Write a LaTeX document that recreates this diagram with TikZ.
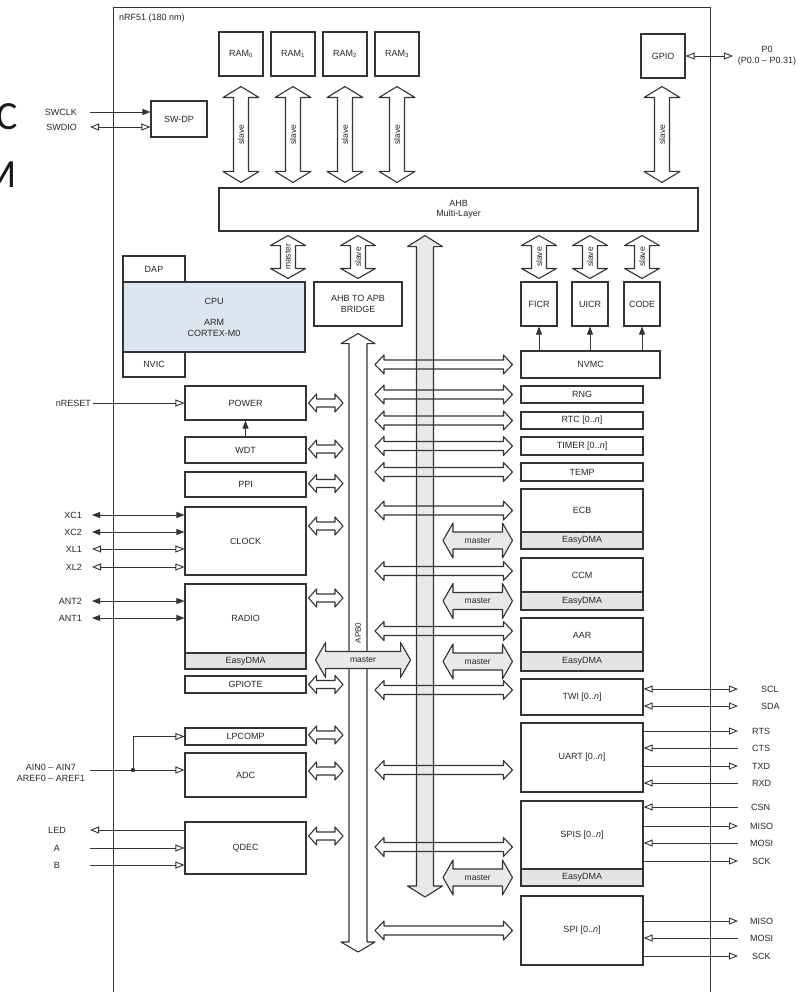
\documentclass[tikz,border=0pt]{standalone}
\usepackage{fontspec}
\setmainfont{Liberation Sans}
\newfontfamily\slidefont{Carlito}
\usetikzlibrary{arrows.meta,calc}
\definecolor{linec}{HTML}{333333}
\definecolor{textc}{HTML}{262626}
\definecolor{cpufill}{HTML}{DCE6F0}
\definecolor{dmafill}{HTML}{E4E4E4}
\definecolor{busfill}{HTML}{E9E9E9}
\newcommand\lblfont{\fontsize{9}{10.5}\selectfont}
\newcommand\arrfont{\fontsize{8.5}{9}\selectfont}
\tikzset{
 blk/.style={draw=linec, line width=1.1pt, inner sep=0pt, font=\lblfont, text=textc, align=center},
 dmablk/.style={blk, fill=dmafill},
 lbl/.style={inner sep=0pt, font=\lblfont, text=textc, align=center},
 sig/.style={draw=linec, line width=0.9pt},
 fatarrow/.style={draw=linec, line width=1.1pt, line join=round},
 arrowlbl/.style={inner sep=0pt, font=\arrfont, text=textc},
 oT/.tip={Triangle[open,length=9pt,width=7pt]},
 fT/.tip={Triangle[length=8pt,width=6pt]},
}
% vertical double fat arrow: top point, bottom point, half shaft, half head, head length, fill, label
\newcommand\fatV[7]{%
  \path[fatarrow,fill=#6] let \p1=#1, \p2=#2 in
    (\x1,\y1) -- ({\x1+#4pt},{\y1-#5pt}) -- ({\x1+#3pt},{\y1-#5pt})
    -- ({\x1+#3pt},{\y2+#5pt}) -- ({\x1+#4pt},{\y2+#5pt}) -- (\x1,\y2)
    -- ({\x1-#4pt},{\y2+#5pt}) -- ({\x1-#3pt},{\y2+#5pt})
    -- ({\x1-#3pt},{\y1-#5pt}) -- ({\x1-#4pt},{\y1-#5pt}) -- cycle
    ({\x1},{0.5*\y1+0.5*\y2}) node[arrowlbl,rotate=90] {#7};}
% horizontal double fat arrow: left point, right point, half shaft, half head, head length, fill, label
\newcommand\fatH[7]{%
  \path[fatarrow,fill=#6] let \p1=#1, \p2=#2 in
    (\x1,\y1) -- ({\x1+#5pt},{\y1+#4pt}) -- ({\x1+#5pt},{\y1+#3pt})
    -- ({\x2-#5pt},{\y1+#3pt}) -- ({\x2-#5pt},{\y1+#4pt}) -- (\x2,\y1)
    -- ({\x2-#5pt},{\y1-#4pt}) -- ({\x2-#5pt},{\y1-#3pt})
    -- ({\x1+#5pt},{\y1-#3pt}) -- ({\x1+#5pt},{\y1-#4pt}) -- cycle
    ({0.5*\x1+0.5*\x2},{\y1}) node[arrowlbl] {#7};}

\begin{document}
\begin{tikzpicture}[x=1pt,y=-1pt]
\useasboundingbox (0,0) rectangle (808,992);

% slide letters cut at the left edge
\node[font=\slidefont\fontsize{40}{40}\selectfont, text=black!90, anchor=base east, inner sep=0pt] (bigC) at (18,130) {C};
\node[font=\slidefont\fontsize{40}{40}\selectfont, text=black!90, anchor=base east, inner sep=0pt] (bigM) at (17,188) {M};

% chip frame
\node[draw=linec, line width=1.1pt, minimum width=597pt, minimum height=1010pt, anchor=north west, inner sep=0pt] (chip) at (113,7) {};
\node[lbl, anchor=west] (chiplbl) at (119,18) {nRF51 (180 nm)};

% top row
\node[blk, minimum width=44pt, minimum height=44pt] (ram0) at (241,54) {RAM\textsubscript{0}};
\node[blk, minimum width=44pt, minimum height=44pt] (ram1) at (293,54) {RAM\textsubscript{1}};
\node[blk, minimum width=44pt, minimum height=44pt] (ram2) at (345,54) {RAM\textsubscript{2}};
\node[blk, minimum width=44pt, minimum height=44pt] (ram3) at (397,54) {RAM\textsubscript{3}};
\node[blk, minimum width=44pt, minimum height=44pt] (gpio) at (663,56) {GPIO};
\node[blk, minimum width=56pt, minimum height=36pt] (swdp) at (179,119) {SW-DP};
\node[blk, minimum width=479pt, minimum height=43pt] (ahb) at (458.5,209.5) {AHB\\Multi-Layer};

% CPU
\node[blk, minimum width=62pt, minimum height=26pt] (dap) at (154,269) {DAP};
\node[blk, fill=cpufill, minimum width=182pt, minimum height=70pt, font=\fontsize{9}{10.5}\selectfont] (cpu) at (214,317) {CPU\\[11pt]ARM\\CORTEX-M0};
\node[blk, minimum width=62pt, minimum height=25pt] (nvic) at (154,364.5) {NVIC};
\node[blk, minimum width=88pt, minimum height=44pt] (bridge) at (358,304) {AHB TO APB\\BRIDGE};

% flash
\node[blk, minimum width=36pt, minimum height=44pt] (ficr) at (539,304) {FICR};
\node[blk, minimum width=36pt, minimum height=44pt] (uicr) at (590,304) {UICR};
\node[blk, minimum width=36pt, minimum height=44pt] (code) at (642,304) {CODE};
\node[blk, minimum width=139pt, minimum height=27pt] (nvmc) at (590.5,364.5) {NVMC};

% right peripherals
\node[blk, minimum width=122pt, minimum height=17pt] (rng) at (582,394.5) {RNG};
\node[blk, minimum width=122pt, minimum height=17pt] (rtc) at (582,420.5) {RTC [0..\textit{n}]};
\node[blk, minimum width=122pt, minimum height=18pt] (timer) at (582,446) {TIMER [0..\textit{n}]};
\node[blk, minimum width=122pt, minimum height=18pt] (temp) at (582,472) {TEMP};
\node[blk, minimum width=122pt, minimum height=43pt] (ecb) at (582,510.5) {ECB};
\node[dmablk, minimum width=122pt, minimum height=17pt] (ecbdma) at (582,540.5) {EasyDMA};
\node[blk, minimum width=122pt, minimum height=34pt] (ccm) at (582,575) {CCM};
\node[dmablk, minimum width=122pt, minimum height=18pt] (ccmdma) at (582,601) {EasyDMA};
\node[blk, minimum width=122pt, minimum height=34pt] (aar) at (582,635) {AAR};
\node[dmablk, minimum width=122pt, minimum height=19pt] (aardma) at (582,661.5) {EasyDMA};
\node[blk, minimum width=122pt, minimum height=36pt] (twi) at (582,697) {TWI [0..\textit{n}]};
\node[blk, minimum width=122pt, minimum height=69pt] (uart) at (582,757.5) {UART [0..\textit{n}]};
\node[blk, minimum width=122pt, minimum height=68pt] (spis) at (582,835) {SPIS [0..\textit{n}]};
\node[dmablk, minimum width=122pt, minimum height=17pt] (spisdma) at (582,877.5) {EasyDMA};
\node[blk, minimum width=122pt, minimum height=69pt] (spi) at (582,930.5) {SPI [0..\textit{n}]};

% left peripherals
\node[blk, minimum width=121pt, minimum height=34pt] (power) at (245.5,403) {POWER};
\node[blk, minimum width=121pt, minimum height=26pt] (wdt) at (245.5,450) {WDT};
\node[blk, minimum width=121pt, minimum height=25pt] (ppi) at (245.5,484.5) {PPI};
\node[blk, minimum width=121pt, minimum height=68pt] (clock) at (245.5,541) {CLOCK};
\node[blk, minimum width=121pt, minimum height=69pt] (radio) at (245.5,618.5) {RADIO};
\node[dmablk, minimum width=121pt, minimum height=16pt] (radiodma) at (245.5,661) {EasyDMA};
\node[blk, minimum width=121pt, minimum height=17pt] (gpiote) at (245.5,684.5) {GPIOTE};
\node[blk, minimum width=121pt, minimum height=17pt] (lpcomp) at (245.5,736.5) {LPCOMP};
\node[blk, minimum width=121pt, minimum height=44pt] (adc) at (245.5,775) {ADC};
\node[blk, minimum width=121pt, minimum height=52pt] (qdec) at (245.5,848) {QDEC};

% ---- fat arrows: slaves to AHB
\fatV{($(ram0.south)+(0,10)$)}{($(ahb.north -| ram0.south)+(0,-5)$)}{7.5}{18}{11}{none}{slave}
\fatV{($(ram1.south)+(0,10)$)}{($(ahb.north -| ram1.south)+(0,-5)$)}{7.5}{18}{11}{none}{slave}
\fatV{($(ram2.south)+(0,10)$)}{($(ahb.north -| ram2.south)+(0,-5)$)}{7.5}{18}{11}{none}{slave}
\fatV{($(ram3.south)+(0,10)$)}{($(ahb.north -| ram3.south)+(0,-5)$)}{7.5}{18}{11}{none}{slave}
\fatV{($(gpio.south)+(-1,8)$)}{($(ahb.north -| gpio.south)+(-1,-5)$)}{7.5}{18}{11}{none}{slave}

\coordinate (cpuport) at (288,0);
\fatV{($(ahb.south -| cpuport)+(0,4)$)}{($(cpu.north -| cpuport)+(0,-3)$)}{7.5}{17.5}{10}{none}{master}
\fatV{($(ahb.south -| bridge.north)+(0,4)$)}{($(bridge.north)+(0,-3)$)}{7.5}{17.5}{10}{none}{slave}
\fatV{($(ahb.south -| ficr.north)+(0,4)$)}{($(ficr.north)+(0,-3)$)}{7.5}{17.5}{10}{none}{slave}
\fatV{($(ahb.south -| uicr.north)+(0,4)$)}{($(uicr.north)+(0,-3)$)}{7.5}{17.5}{10}{none}{slave}
\fatV{($(ahb.south -| code.north)+(0,4)$)}{($(code.north)+(0,-3)$)}{7.5}{17.5}{10}{none}{slave}

% AHB bus (grey) and APB bus (white)
\coordinate (ahbbus) at (425,0);
\coordinate (ahbbusend) at (425,897);
\fatV{($(ahb.south -| ahbbus)+(0,4)$)}{(ahbbusend)}{8.5}{17.5}{11}{busfill}{}
\coordinate (apbend) at (358,952);
\fatV{($(bridge.south)+(0,7)$)}{(apbend)}{9}{17}{10}{white}{}

% APB to right peripherals
\coordinate (apbtap) at (375,0);
\fatH{(apbtap |- nvmc.west)}{($(nvmc.west)+(-8,0)$)}{4.5}{9.5}{9}{none}{}
\fatH{(apbtap |- rng.west)}{($(rng.west)+(-8,0)$)}{4.5}{9.5}{9}{none}{}
\fatH{(apbtap |- rtc.west)}{($(rtc.west)+(-8,0)$)}{4.5}{9.5}{9}{none}{}
\fatH{(apbtap |- timer.west)}{($(timer.west)+(-8,0)$)}{4.5}{9.5}{9}{none}{}
\fatH{(apbtap |- temp.west)}{($(temp.west)+(-8,0)$)}{4.5}{9.5}{9}{none}{}
\fatH{(apbtap |- ecb.west)}{($(ecb.west)+(-8,0)$)}{4.5}{9.5}{9}{none}{}
\fatH{($(apbtap |- ccm.west)+(0,-4)$)}{($(ccm.west)+(-8,-4)$)}{4.5}{9.5}{9}{none}{}
\fatH{($(apbtap |- aar.west)+(0,-4)$)}{($(aar.west)+(-8,-4)$)}{4.5}{9.5}{9}{none}{}
\fatH{($(apbtap |- twi.west)+(0,-7)$)}{($(twi.west)+(-8,-7)$)}{4.5}{9.5}{9}{none}{}
\fatH{($(apbtap |- uart.west)+(0,12.5)$)}{($(uart.west)+(-8,12.5)$)}{4.5}{9.5}{9}{none}{}
\fatH{($(apbtap |- spis.west)+(0,12)$)}{($(spis.west)+(-8,12)$)}{4.5}{9.5}{9}{none}{}
\fatH{(apbtap |- spi.west)}{($(spi.west)+(-8,0)$)}{4.5}{9.5}{9}{none}{}

% EasyDMA masters (right)
\coordinate (dmatap) at (443,0);
\fatH{(dmatap |- ecbdma.west)}{($(ecbdma.west)+(-8,0)$)}{8.5}{17.5}{10}{busfill}{master}
\fatH{(dmatap |- ccmdma.west)}{($(ccmdma.west)+(-8,0)$)}{8.5}{17.5}{10}{busfill}{master}
\fatH{(dmatap |- aardma.west)}{($(aardma.west)+(-8,0)$)}{8.5}{17.5}{10}{busfill}{master}
\fatH{(dmatap |- spisdma.west)}{($(spisdma.west)+(-8,0)$)}{8.5}{17.5}{10}{busfill}{master}

% left peripherals to APB
\coordinate (apbleft) at (343,0);
\fatH{($(power.east)+(2,0)$)}{(apbleft |- power.east)}{4}{9}{8}{none}{}
\fatH{($(wdt.east)+(2,-1)$)}{($(apbleft |- wdt.east)+(0,-1)$)}{4}{9}{8}{none}{}
\fatH{($(ppi.east)+(2,-1)$)}{($(apbleft |- ppi.east)+(0,-1)$)}{4}{9}{8}{none}{}
\fatH{($(clock.east)+(2,-15)$)}{($(apbleft |- clock.east)+(0,-15)$)}{4}{9}{8}{none}{}
\fatH{($(radio.east)+(2,-20.5)$)}{($(apbleft |- radio.east)+(0,-20.5)$)}{4}{9}{8}{none}{}
\fatH{($(gpiote.east)+(2,0)$)}{(apbleft |- gpiote.east)}{4}{9}{8}{none}{}
\fatH{($(lpcomp.east)+(2,-1.5)$)}{($(apbleft |- lpcomp.east)+(0,-1.5)$)}{4}{9}{8}{none}{}
\fatH{($(adc.east)+(2,-4)$)}{($(apbleft |- adc.east)+(0,-4)$)}{4}{9}{8}{none}{}
\fatH{($(qdec.east)+(2,-12)$)}{($(apbleft |- qdec.east)+(0,-12)$)}{4}{9}{8}{none}{}

% RADIO EasyDMA master across APB
\fatH{($(radiodma.east)+(9,-1)$)}{($(radiodma.east)+(104,-1)$)}{8.5}{17.5}{10}{busfill}{master}
\node[lbl, rotate=90, font=\fontsize{8}{9}\selectfont] (apblbl) at (358,633) {APB0};

% ---- internal signal arrows
\draw[sig,-{fT}] (wdt.north) -- (power.south);
\draw[sig,-{fT}] (nvmc.north -| ficr.south) -- (ficr.south);
\draw[sig,-{fT}] (nvmc.north -| uicr.south) -- (uicr.south);
\draw[sig,-{fT}] (nvmc.north -| code.south) -- (code.south);

% ---- left pins
\node[lbl, anchor=east] (lswclk) at (77,112) {SWCLK};
\node[lbl, anchor=east] (lswdio) at (77,127) {SWDIO};
\coordinate (pswclk) at (90,112);
\coordinate (pswdio) at (90,127);
\draw[sig,-{fT}] (pswclk) -- (pswclk -| swdp.west);
\draw[sig,{oT}-{oT}] (pswdio) -- (pswdio -| swdp.west);

\node[lbl, anchor=east] (lnreset) at (91,403) {nRESET};
\coordinate (pnreset) at (93,403);
\draw[sig,-{oT}] (pnreset) -- (pnreset -| power.west);

\node[lbl, anchor=east] (lxc1) at (82,515) {XC1};
\node[lbl, anchor=east] (lxc2) at (82,532) {XC2};
\node[lbl, anchor=east] (lxl1) at (82,549) {XL1};
\node[lbl, anchor=east] (lxl2) at (82,567) {XL2};
\coordinate (pxc1) at (92,515);
\coordinate (pxc2) at (92,532);
\coordinate (pxl1) at (92,549);
\coordinate (pxl2) at (92,567);
\draw[sig,{fT}-{fT}] (pxc1) -- (pxc1 -| clock.west);
\draw[sig,{fT}-{fT}] (pxc2) -- (pxc2 -| clock.west);
\draw[sig,{oT}-{oT}] (pxl1) -- (pxl1 -| clock.west);
\draw[sig,{oT}-{oT}] (pxl2) -- (pxl2 -| clock.west);

\node[lbl, anchor=east] (lant2) at (82,601) {ANT2};
\node[lbl, anchor=east] (lant1) at (82,618) {ANT1};
\coordinate (pant2) at (92,601);
\coordinate (pant1) at (92,618);
\draw[sig,{fT}-{fT}] (pant2) -- (pant2 -| radio.west);
\draw[sig,{fT}-{fT}] (pant1) -- (pant1 -| radio.west);

\node[lbl] (lain) at (51,773) {AIN0 – AIN7\\AREF0 – AREF1};
\coordinate (pain) at (90,770);
\coordinate (ainjoin) at (133,770);
\draw[sig,-{oT}] (pain) -- (pain -| adc.west);
\draw[sig,-{oT}] (ainjoin) |- (lpcomp.west);
\fill[linec] (ainjoin) circle (2.2pt);

\node[lbl] (lled) at (57,830) {LED};
\node[lbl] (la) at (57,848) {A};
\node[lbl] (lb) at (57,865) {B};
\coordinate (pled) at (90,830);
\coordinate (pa) at (90,848);
\coordinate (pb) at (90,865);
\draw[sig,-{oT}] (pled -| qdec.west) -- (pled);
\draw[sig,-{oT}] (pa) -- (pa -| qdec.west);
\draw[sig,-{oT}] (pb) -- (pb -| qdec.west);

% ---- right pins
\coordinate (pp0) at (733,56);
\draw[sig,{oT}-{oT}] (gpio.east) -- (pp0);
\node[lbl] (lp0) at (767,56) {P0\\(P0.0 – P0.31)};

\coordinate (pscl) at (738,689);
\coordinate (psda) at (738,706);
\draw[sig,{oT}-{oT}] (pscl -| twi.east) -- (pscl);
\draw[sig,{oT}-{oT}] (psda -| twi.east) -- (psda);
\node[lbl, anchor=west] (lscl) at (761,689) {SCL};
\node[lbl, anchor=west] (lsda) at (761,706) {SDA};

\coordinate (prts) at (738,731);
\coordinate (pcts) at (738,748);
\coordinate (ptxd) at (738,766);
\coordinate (prxd) at (738,783);
\draw[sig,-{oT}] (prts -| uart.east) -- (prts);
\draw[sig,-{oT}] (pcts) -- (pcts -| uart.east);
\draw[sig,-{oT}] (ptxd -| uart.east) -- (ptxd);
\draw[sig,-{oT}] (prxd) -- (prxd -| uart.east);
\node[lbl, anchor=west] (lrts) at (752,731) {RTS};
\node[lbl, anchor=west] (lcts) at (752,748) {CTS};
\node[lbl, anchor=west] (ltxd) at (752,766) {TXD};
\node[lbl, anchor=west] (lrxd) at (752,783) {RXD};

\coordinate (pcsn) at (738,807);
\coordinate (psmiso) at (738,826);
\coordinate (psmosi) at (738,843);
\coordinate (pssck) at (738,861);
\draw[sig,-{oT}] (pcsn) -- (pcsn -| spis.east);
\draw[sig,-{oT}] (psmiso -| spis.east) -- (psmiso);
\draw[sig,-{oT}] (psmosi) -- (psmosi -| spis.east);
\draw[sig,-{oT}] (pssck -| spis.east) -- (pssck);
\node[lbl, anchor=west] (lcsn) at (751,807) {CSN};
\node[lbl, anchor=west] (lsmiso) at (750,826) {MISO};
\node[lbl, anchor=west] (lsmosi) at (750,843) {MOSI};
\node[lbl, anchor=west] (lssck) at (752,861) {SCK};

\coordinate (pmiso) at (738,921);
\coordinate (pmosi) at (738,938);
\coordinate (psck) at (738,956);
\draw[sig,-{oT}] (pmiso -| spi.east) -- (pmiso);
\draw[sig,-{oT}] (pmosi) -- (pmosi -| spi.east);
\draw[sig,-{oT}] (psck -| spi.east) -- (psck);
\node[lbl, anchor=west] (lmiso) at (750,921) {MISO};
\node[lbl, anchor=west] (lmosi) at (750,938) {MOSI};
\node[lbl, anchor=west] (lsck) at (752,956) {SCK};
\end{tikzpicture}
\end{document}
